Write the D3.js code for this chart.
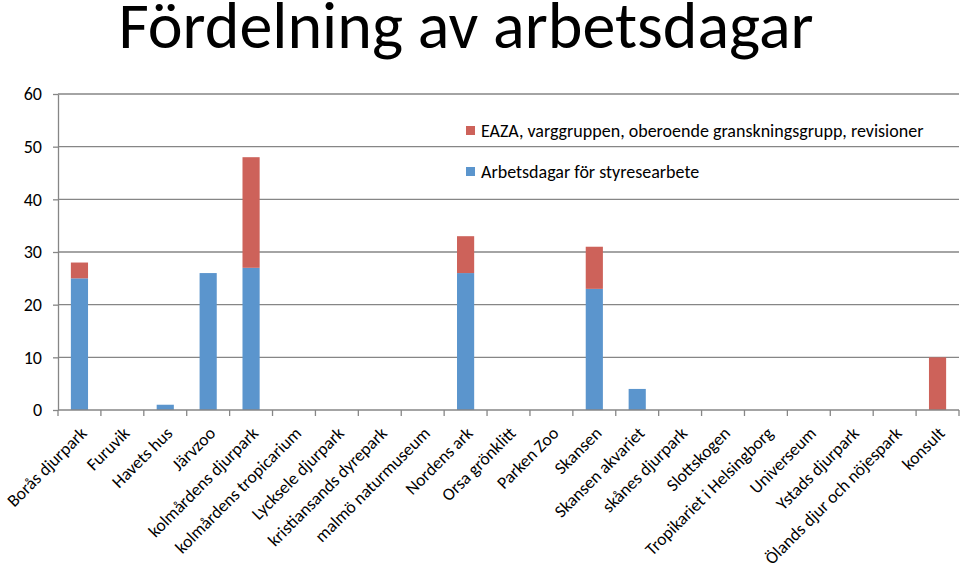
<!DOCTYPE html>
<html><head><meta charset="utf-8">
<script src="https://cdn.jsdelivr.net/npm/d3@7"></script>
<style>body{margin:0;background:#fff}svg{display:block}</style>
</head><body>
<svg id="c" width="960" height="568"></svg>
<script>
const categories = ["Borås djurpark","Furuvik","Havets hus","Järvzoo","kolmårdens djurpark","kolmårdens tropicarium","Lycksele djurpark","kristiansands dyrepark","malmö naturmuseum","Nordens ark","Orsa grönklitt","Parken Zoo","Skansen","Skansen akvariet","skånes djurpark","Slottskogen","Tropikariet i Helsingborg","Universeum","Ystads djurpark","Ölands djur och nöjespark","konsult"];
const styrelse = [25,0,1,26,27,0,0,0,0,26,0,0,23,4,0,0,0,0,0,0,0];
const eaza =     [3,0,0,0,21,0,0,0,0,7,0,0,8,0,0,0,0,0,0,0,10];
const seriesNames = ["Arbetsdagar för styresearbete","EAZA, varggruppen, oberoende granskningsgrupp, revisioner"];
const yTicks = [0,10,20,30,40,50,60];
const colors = ["#5b95cd","#cd625a"];

const font = "Carlito, 'Open Sans', 'Liberation Sans', sans-serif";
const svg = d3.select("#c");
const L = 58, R = 959, T = 94, B = 410;
const x = d3.scaleBand().domain(categories).range([L, R]).paddingInner(0.6).paddingOuter(0.3);
const xb = d3.scaleBand().domain(categories).range([L, R]);
const y = d3.scaleLinear().domain([0, 60]).range([B, T]);

svg.append("text").attr("x", 466).attr("y", 48).attr("text-anchor", "middle")
  .style("font-family", font).style("font-size", "66px").attr("fill", "#000")
  .text("Fördelning av arbetsdagar");

// gridlines
svg.append("g").selectAll("line").data(yTicks.filter(d => d > 0)).join("line")
  .attr("x1", L).attr("x2", R).attr("y1", d => y(d)).attr("y2", d => y(d))
  .attr("stroke", "#868686").attr("stroke-width", 1.3);

// y axis
const ya = svg.append("g").attr("transform", `translate(${L},0)`)
  .call(d3.axisLeft(y).tickValues(yTicks).tickSize(5).tickSizeOuter(0).tickPadding(11));
ya.select(".domain").attr("stroke", "#868686").attr("stroke-width", 1.3);
ya.selectAll(".tick line").attr("stroke", "#868686").attr("stroke-width", 1.3);
ya.selectAll("text").style("font-family", font).style("font-size", "18px").attr("fill", "#000");

// stacked bars
const table = categories.map((c, i) => ({cat: c, s: styrelse[i], e: eaza[i]}));
const stack = d3.stack().keys(["s", "e"])(table);
svg.append("g").selectAll("g").data(stack).join("g").attr("fill", (d, i) => colors[i])
  .selectAll("rect").data(d => d).join("rect")
  .attr("x", d => x(d.data.cat)).attr("width", x.bandwidth())
  .attr("y", d => y(d[1])).attr("height", d => y(d[0]) - y(d[1]));

// x axis
const xa = svg.append("g").attr("transform", `translate(0,${B})`);
xa.append("line").attr("x1", L).attr("x2", R).attr("stroke", "#868686").attr("stroke-width", 1.3);
const tickPos = categories.map(c => xb(c)).concat([R]);
xa.selectAll("line.t").data(tickPos).join("line").attr("class", "t")
  .attr("x1", d => d).attr("x2", d => d).attr("y1", 0).attr("y2", 6)
  .attr("stroke", "#868686").attr("stroke-width", 1.3);
xa.selectAll("text").data(categories).join("text")
  .attr("transform", d => `translate(${xb(d) + xb.bandwidth()/2 + 4},${20}) rotate(-45)`)
  .attr("text-anchor", "end").attr("dy", "0.35em")
  .style("font-family", font).style("font-size", "17.5px").attr("fill", "#000")
  .text(d => d);

// legend
const leg = [{n: seriesNames[1], c: colors[1], y: 131}, {n: seriesNames[0], c: colors[0], y: 172}];
const lg = svg.append("g").selectAll("g").data(leg).join("g");
lg.append("rect").attr("x", 466).attr("y", d => d.y - 5).attr("width", 9).attr("height", 9).attr("fill", d => d.c);
lg.append("text").attr("x", 481).attr("y", d => d.y).attr("dy", "0.35em")
  .style("font-family", font).style("font-size", "18px").attr("fill", "#000").text(d => d.n);
</script>
</body></html>
